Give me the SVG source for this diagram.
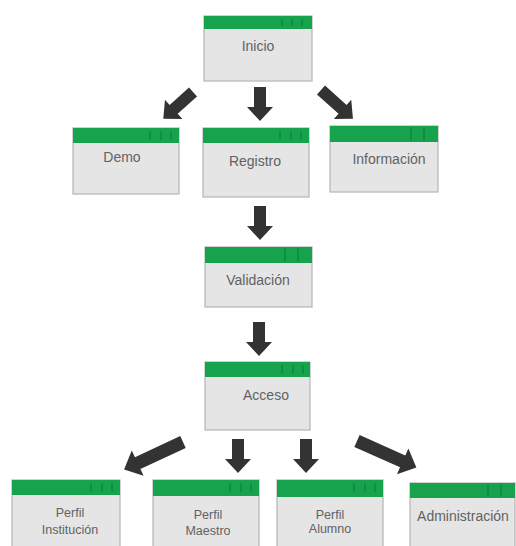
<svg xmlns="http://www.w3.org/2000/svg" width="516" height="546" viewBox="0 0 516 546">
<defs>
<style>
.box{fill:#e5e5e5;stroke:#b4b4b4;stroke-width:1.2}
.bar{fill:#17a24e}
.ctl{fill:none;stroke:#0f7a38;stroke-width:1}
.lbl{font-family:"Liberation Sans",Arial,sans-serif;font-size:14px;fill:#626262;text-anchor:middle}
.sm{font-size:12.5px}
.arr{fill:#333333}
</style>
<path id="a34" d="M0,-6 L20,-6 L20,-13 L34,0 L20,13 L20,6 L0,6 Z"/>
<path id="a40" d="M0,-6 L26,-6 L26,-13 L40,0 L26,13 L26,6 L0,6 Z"/>
<path id="a43" d="M0,-6 L29,-6 L29,-13 L43,0 L29,13 L29,6 L0,6 Z"/>
<path id="a65" d="M0,-6.5 L50,-6.5 L50,-14 L65,0 L50,14 L50,6.5 L0,6.5 Z"/>
</defs>
<g id="connectors" class="arr">
<use href="#a34" transform="translate(260,87) rotate(90)"/>
<use href="#a40" transform="translate(193,92) rotate(138)"/>
<use href="#a43" transform="translate(321,90) rotate(42)"/>
<use href="#a34" transform="translate(260,206) rotate(90)"/>
<use href="#a34" transform="translate(259,322) rotate(90)"/>
<use href="#a65" transform="translate(183,442) rotate(155)"/>
<use href="#a34" transform="translate(238,439) rotate(90)"/>
<use href="#a34" transform="translate(306,439) rotate(90)"/>
<use href="#a65" transform="translate(357,441) rotate(24)"/>
</g>
<g id="inicio">
<rect class="box" x="204" y="16" width="108" height="65"/>
<rect class="bar" x="204" y="16" width="108" height="13"/>
<path class="ctl" d="M282,19v7M292,19v7M302,19v7"/>
<text class="lbl" x="258" y="51">Inicio</text>
</g>
<g id="demo">
<rect class="box" x="73" y="128" width="106" height="66"/>
<rect class="bar" x="73" y="128" width="106" height="15"/>
<path class="ctl" d="M150,131v9M161,131v9M171,131v9"/>
<text class="lbl" x="122" y="162">Demo</text>
</g>
<g id="registro">
<rect class="box" x="203" y="128" width="106" height="69"/>
<rect class="bar" x="203" y="128" width="106" height="15"/>
<path class="ctl" d="M280,131v9M291,131v9M301,131v9"/>
<text class="lbl" x="255" y="166">Registro</text>
</g>
<g id="informacion">
<rect class="box" x="330" y="126" width="108" height="66"/>
<rect class="bar" x="330" y="126" width="108" height="16"/>
<path class="ctl" d="M411,127v14M424,127v14"/>
<text class="lbl" x="389" y="164">Información</text>
</g>
<g id="validacion">
<rect class="box" x="205" y="247" width="107" height="60"/>
<rect class="bar" x="205" y="247" width="107" height="16"/>
<path class="ctl" d="M285,248v14M298,248v14"/>
<text class="lbl" x="258" y="285">Validación</text>
</g>
<g id="acceso">
<rect class="box" x="205" y="362" width="105" height="68"/>
<rect class="bar" x="205" y="362" width="105" height="15"/>
<path class="ctl" d="M282,365v9M293,365v9M303,365v9"/>
<text class="lbl" x="266" y="400">Acceso</text>
</g>
<g id="perfil-institucion">
<rect class="box" x="12" y="480" width="108" height="70"/>
<rect class="bar" x="12" y="480" width="108" height="15"/>
<path class="ctl" d="M91,483v9M102,483v9M112,483v9"/>
<text class="lbl sm" x="70" y="517">Perfil</text>
<text class="lbl sm" x="70" y="534">Institución</text>
</g>
<g id="perfil-maestro">
<rect class="box" x="153" y="480" width="106" height="70"/>
<rect class="bar" x="153" y="480" width="106" height="16"/>
<path class="ctl" d="M230,483v9M241,483v9M251,483v9"/>
<text class="lbl sm" x="208" y="519">Perfil</text>
<text class="lbl sm" x="208" y="535">Maestro</text>
</g>
<g id="perfil-alumno">
<rect class="box" x="277" y="480" width="106" height="70"/>
<rect class="bar" x="277" y="480" width="106" height="17"/>
<path class="ctl" d="M354,483v9M365,483v9M375,483v9"/>
<text class="lbl sm" x="330" y="519">Perfil</text>
<text class="lbl sm" x="330" y="533">Alumno</text>
</g>
<g id="administracion">
<rect class="box" x="410" y="483" width="105" height="67"/>
<rect class="bar" x="410" y="483" width="105" height="15"/>
<path class="ctl" d="M488,484v13M501,484v13"/>
<text class="lbl" x="463" y="521">Administración</text>
</g>
</svg>
